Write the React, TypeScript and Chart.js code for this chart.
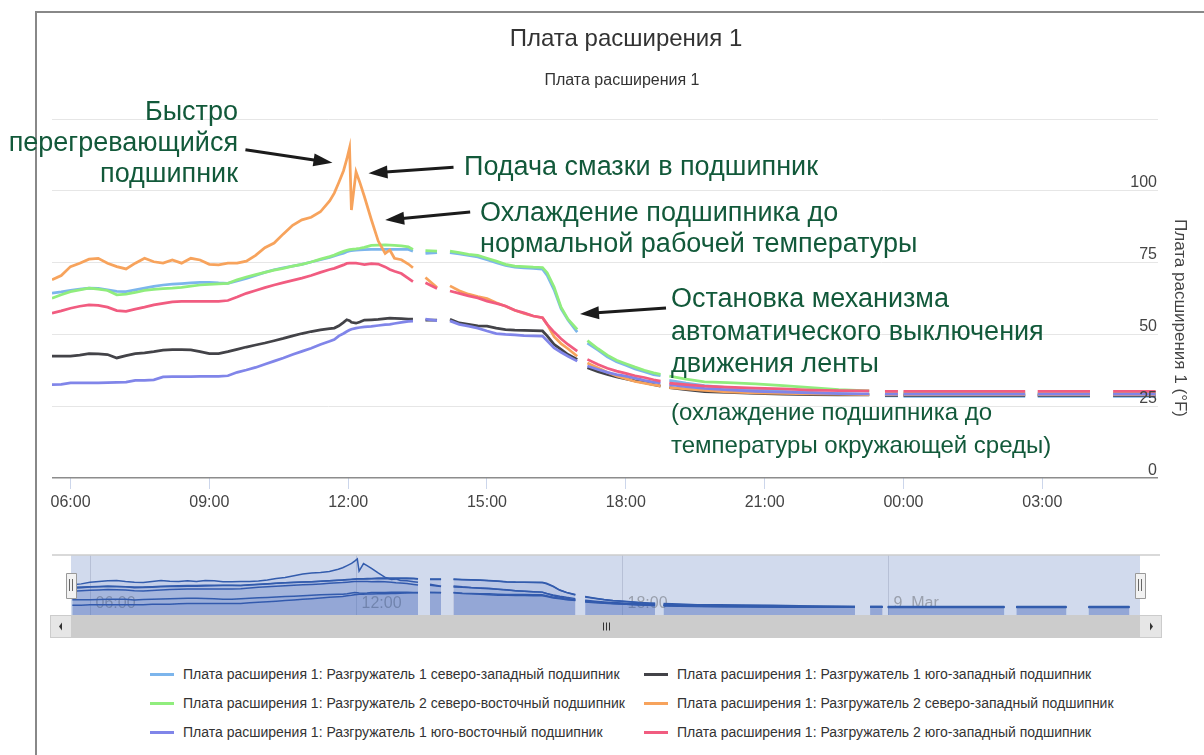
import React, { useEffect, useRef } from "react";
import { Chart, registerables } from "chart.js";

Chart.register(...registerables);

// ---- time grid (hours since 00:00 of day 1; null rows are data gaps) ----
const hours = [
  5.6, 5.8, 6.0, 6.2, 6.4, 6.6, 6.8, 7.0, 7.2, 7.4, 7.6, 7.8, 8.0, 8.2, 8.4, 8.6,
  8.8, 9.0, 9.2, 9.4, 9.6, 9.8, 10.0, 10.2, 10.4, 10.6, 10.8, 11.0, 11.2, 11.4, 11.6,
  11.7, 11.8, 11.9, 11.97, 12.03, 12.07, 12.17, 12.25, 12.35, 12.5, 12.65, 12.8, 12.9, 13.0, 13.15, 13.3, 13.4,
  13.53,
  13.67, 13.92,
  14.05,
  14.2, 14.4, 14.6, 14.8, 15.0, 15.2, 15.4, 15.6, 15.8, 16.0, 16.2, 16.3, 16.45, 16.6, 16.75, 16.95,
  17.06,
  17.17, 17.4, 17.6, 17.8, 18.0, 18.2, 18.4, 18.6, 18.75,
  18.85,
  18.94, 19.3, 19.7, 20.2, 20.8, 21.4, 22.0, 22.6, 23.26,
  23.43,
  23.6, 23.88,
  23.94,
  24.0, 26.63,
  26.77,
  26.9, 28.03,
  28.3,
  28.53, 29.45,
];

// Разгружатель 1 северо-западный (blue)
const unloader1NW = [
  64.4, 64.8, 65.3, 65.8, 66.1, 66.0, 65.5, 65.0, 64.9, 65.5, 66.1, 66.7, 67.2, 67.5, 67.7, 67.9,
  68.1, 68.1, 67.9, 67.8, 68.6, 69.5, 70.5, 71.6, 72.5, 73.2, 73.8, 74.4, 75.2, 76.0, 76.8,
  77.3, 77.8, 78.3, 78.8, 79.1, 79.2, 79.3, 79.4, 79.5, 79.6, 79.6, 79.6, 79.6, 79.6, 79.6, 79.6, 79.0,
  null,
  78.2, 78.5,
  null,
  78.5, 78.0, 77.5, 77.0, 76.0, 75.0, 74.0, 73.4, 73.2, 73.0, 72.7, 70.5, 65.5, 59.0, 55.0, 50.8,
  null,
  47.0, 44.5, 42.2, 40.5, 39.3, 38.0, 37.0, 36.0, 35.6,
  null,
  34.0, 33.0, 32.2, 31.5, 30.8, 30.2, 29.8, 29.4, 29.0,
  null,
  28.6, 28.6,
  null,
  28.4, 28.4,
  null,
  28.4, 28.4,
  null,
  28.4, 28.4,
];

// Разгружатель 1 юго-западный (dark)
const unloader1SW = [
  42.4, 42.4, 42.4, 42.8, 43.3, 43.2, 43.0, 41.8, 42.6, 43.3, 43.6, 44.0, 44.5, 44.7, 44.7, 44.6,
  44.0, 43.3, 43.3, 44.0, 44.8, 45.6, 46.3, 47.0, 47.8, 48.6, 49.5, 50.3, 51.0, 51.6, 52.0,
  52.2, 53.0, 54.2, 55.1, 54.8, 54.2, 53.9, 54.3, 55.0, 55.1, 55.2, 55.5, 55.7, 55.6, 55.5, 55.3, 55.3,
  null,
  55.0, 55.0,
  null,
  55.3, 54.0, 53.5, 53.0, 52.9, 52.2, 51.7, 51.5, 51.4, 51.3, 51.2, 49.5, 46.5, 44.8, 43.0, 41.3,
  null,
  38.4, 37.0, 36.1, 35.2, 34.5, 33.8, 33.2, 32.5, 32.0,
  null,
  31.5, 30.8, 30.1, 29.8, 29.5, 29.2, 29.0, 28.9, 28.9,
  null,
  28.8, 28.8,
  null,
  28.8, 28.8,
  null,
  28.8, 28.8,
  null,
  28.8, 28.8,
];

// Разгружатель 2 северо-восточный (green)
const unloader2NE = [
  62.6, 63.8, 64.9, 65.5, 66.1, 65.8, 65.3, 63.8, 64.0, 64.6, 65.3, 65.7, 65.9, 66.1, 66.4, 66.8,
  67.2, 67.4, 67.6, 67.8, 69.0, 70.0, 70.8, 71.6, 72.4, 73.0, 73.8, 74.4, 75.2, 76.2, 77.1,
  77.6, 78.3, 78.9, 79.3, 79.5, 79.6, 79.8, 80.0, 80.3, 81.0, 81.1, 81.2, 81.1, 81.0, 80.8, 80.5, 79.6,
  null,
  79.2, 79.0,
  null,
  79.0, 78.5, 77.9, 77.5, 76.5, 75.5, 74.4, 73.8, 73.6, 73.4, 73.3, 71.5, 66.5, 59.5, 55.3, 51.7,
  null,
  47.8, 45.0, 42.8, 41.0, 39.8, 38.6, 37.5, 36.6, 36.1,
  null,
  35.5, 34.4, 33.5, 33.2, 32.8, 32.2, 31.5, 30.8, 30.3,
  null,
  30.2, 30.2,
  null,
  29.6, 29.6,
  null,
  29.4, 29.4,
  null,
  29.5, 29.5,
];

// Разгружатель 2 северо-западный (orange)
const unloader2NW = [
  69.0, 70.5, 73.6, 74.8, 76.2, 76.5, 74.8, 73.6, 72.8, 74.8, 76.5, 75.3, 74.8, 75.9, 74.8, 76.5,
  75.9, 74.4, 74.2, 74.8, 74.8, 75.5, 77.5, 80.2, 81.8, 85.0, 88.0, 89.9, 90.8, 92.7, 96.5,
  99.2, 103.0, 107.0, 111.0, 115.0, 93.3, 106.6, 103.0, 98.0, 90.0, 82.5, 78.2, 79.4, 76.5, 76.0, 74.5, 73.2,
  null,
  69.8, 66.3,
  null,
  66.9, 65.2, 64.0, 63.2, 62.5, 61.0, 59.8, 58.4, 57.3, 56.4, 55.8, 53.5, 49.2, 46.8, 45.0, 42.4,
  null,
  40.0, 38.3, 36.8, 35.5, 34.6, 33.6, 33.0, 32.4, 32.1,
  null,
  31.5, 31.0, 30.5, 30.0, 29.6, 29.5, 29.3, 29.2, 29.0,
  null,
  29.0, 29.0,
  null,
  29.0, 29.0,
  null,
  29.0, 29.0,
  null,
  29.0, 29.0,
];

// Разгружатель 1 юго-восточный (violet)
const unloader1SE = [
  32.5, 32.6, 33.1, 33.1, 33.1, 33.1, 33.2, 33.3, 33.4, 34.0, 34.0, 34.2, 35.2, 35.3, 35.3, 35.3,
  35.4, 35.4, 35.4, 35.6, 36.8, 37.6, 38.5, 39.6, 40.7, 41.8, 43.0, 44.1, 45.2, 46.5, 47.6,
  48.2, 49.5, 50.3, 51.0, 51.5, 51.8, 52.2, 52.4, 52.6, 52.8, 53.1, 53.4, 53.5, 53.8, 54.2, 54.5, 54.6,
  null,
  55.3, 54.8,
  null,
  54.7, 53.5, 52.9, 52.2, 51.2, 50.3, 50.0, 49.8, 49.6, 49.5, 49.4, 47.8, 45.3, 43.8, 42.4, 40.7,
  null,
  39.0, 37.8, 36.8, 36.0, 35.5, 34.8, 34.0, 33.4, 33.1,
  null,
  32.5, 31.8, 31.2, 30.7, 30.2, 29.9, 29.6, 29.4, 29.3,
  null,
  29.2, 29.2,
  null,
  29.2, 29.2,
  null,
  29.2, 29.2,
  null,
  29.2, 29.2,
];

// Разгружатель 2 юго-западный (pink)
const unloader2SW = [
  57.4, 58.2, 59.1, 59.8, 60.3, 60.1, 59.5, 58.3, 58.0, 58.8, 59.5, 60.3, 60.8, 61.3, 61.5, 61.5,
  61.5, 61.5, 61.5, 61.8, 63.0, 64.3, 65.3, 66.3, 67.2, 68.0, 68.8, 69.6, 70.5, 71.6, 72.6,
  73.0, 73.6, 74.2, 74.7, 74.8, 74.8, 74.8, 74.6, 74.3, 74.6, 74.5, 73.5, 72.6, 72.0, 71.2, 69.5, 68.4,
  null,
  68.0, 66.0,
  null,
  65.1, 64.3, 63.4, 62.7, 61.6, 60.8, 59.9, 58.4, 57.5, 56.4, 55.8, 53.5, 50.8, 48.5, 46.5, 44.2,
  null,
  41.3, 39.5, 38.2, 37.2, 36.4, 35.6, 35.0, 34.2, 33.7,
  null,
  33.0, 32.5, 32.0, 31.6, 31.3, 31.0, 30.6, 30.4, 30.3,
  null,
  30.2, 30.2,
  null,
  30.2, 30.2,
  null,
  30.2, 30.2,
  null,
  30.2, 30.2,
];

const seriesNames = [
  "Плата расширения 1: Разгружатель 1 северо-западный подшипник",
  "Плата расширения 1: Разгружатель 1 юго-западный подшипник",
  "Плата расширения 1: Разгружатель 2 северо-восточный подшипник",
  "Плата расширения 1: Разгружатель 2 северо-западный подшипник",
  "Плата расширения 1: Разгружатель 1 юго-восточный подшипник",
  "Плата расширения 1: Разгружатель 2 юго-западный подшипник",
];
const seriesValues = [unloader1NW, unloader1SW, unloader2NE, unloader2NW, unloader1SE, unloader2SW];
const seriesColors = ["#7cb5ec", "#434348", "#90ed7d", "#f7a35c", "#8085e9", "#f15c80"];

const xTickHours = [6, 9, 12, 15, 18, 21, 24, 27];
const yTickValues = [0, 25, 50, 75, 100, 125];
const yLabelValues = [0, 25, 50, 75, 100];
const navTickHours = [6, 12, 18, 24];
const navTickLabels = ["06:00", "12:00", "18:00", "9. Mar"];

const chartTitle = "Плата расширения 1";
const chartSubtitle = "Плата расширения 1";
const yAxisTitle = "Плата расширения 1 (°F)";

// Callouts: text blocks + arrows pointing at data features (tip in data units)
const callouts = [
  { lines: ["Быстро", "перегревающийся", "подшипник"], align: "right", x: 238, baselines: [120, 151, 182], size: 27, tip: { h: 11.66, v: 109.8 }, tail: { dx: -87, dy: -13 } },
  { lines: ["Подача смазки в подшипник"], align: "left", x: 464, baselines: [175], size: 27, tip: { h: 12.44, v: 106.1 }, tail: { dx: 85, dy: -6 } },
  { lines: ["Охлаждение подшипника до", "нормальной рабочей температуры"], align: "left", x: 480, baselines: [221, 252], size: 27, tip: { h: 12.8, v: 89.8 }, tail: { dx: 85, dy: -8 } },
  { lines: ["Остановка механизма", "автоматического выключения", "движения ленты"], align: "left", x: 671, baselines: [307, 340, 372], size: 27, tip: { h: 17.01, v: 57.1 }, tail: { dx: 86, dy: -6 } },
  { lines: ["(охлаждение подшипника до", "температуры окружающей среды)"], align: "left", x: 671, baselines: [420, 453], size: 24, tip: null, tail: null },
];

const FONT = '"Liberation Sans", Arial, sans-serif';

function fmtHour(v: number) {
  const h = ((Math.round(v) % 24) + 24) % 24;
  return String(h).padStart(2, "0") + ":00";
}

function drawArrow(ctx: CanvasRenderingContext2D, x1: number, y1: number, x2: number, y2: number) {
  const ang = Math.atan2(y2 - y1, x2 - x1);
  const headLen = 19;
  const headW = 6.5;
  const bx = x2 - headLen * Math.cos(ang);
  const by = y2 - headLen * Math.sin(ang);
  ctx.save();
  ctx.strokeStyle = "#1b1b1b";
  ctx.fillStyle = "#1b1b1b";
  ctx.lineWidth = 3;
  ctx.beginPath();
  ctx.moveTo(x1, y1);
  ctx.lineTo(bx + 2 * Math.cos(ang), by + 2 * Math.sin(ang));
  ctx.stroke();
  ctx.beginPath();
  ctx.moveTo(x2, y2);
  ctx.lineTo(bx + headW * Math.sin(ang), by - headW * Math.cos(ang));
  ctx.lineTo(bx - headW * Math.sin(ang), by + headW * Math.cos(ang));
  ctx.closePath();
  ctx.fill();
  ctx.restore();
}

const mainDecor = {
  id: "mainDecor",
  afterDraw(chart: any) {
    const ctx: CanvasRenderingContext2D = chart.ctx;
    const xs = chart.scales.x;
    const ys = chart.scales.y;
    const area = chart.chartArea;
    ctx.save();
    // titles
    ctx.fillStyle = "#333333";
    ctx.textAlign = "center";
    ctx.textBaseline = "alphabetic";
    ctx.font = `24px ${FONT}`;
    ctx.fillText(chartTitle, 626, 46);
    ctx.font = `16px ${FONT}`;
    ctx.fillText(chartSubtitle, 622, 85);
    // y labels (inside, above gridlines)
    ctx.fillStyle = "#444444";
    ctx.textAlign = "right";
    ctx.font = `16px ${FONT}`;
    yLabelValues.forEach((v) => {
      ctx.fillText(String(v), area.right - 1, ys.getPixelForValue(v) - 3.5);
    });
    // y axis title
    ctx.save();
    ctx.translate(1180, 318);
    ctx.rotate(Math.PI / 2);
    ctx.textAlign = "center";
    ctx.textBaseline = "middle";
    ctx.font = `17px ${FONT}`;
    ctx.fillStyle = "#444444";
    ctx.fillText(yAxisTitle, 0, 0);
    ctx.restore();
    // callouts
    callouts.forEach((c) => {
      ctx.fillStyle = "#12593a";
      ctx.font = `${c.size}px ${FONT}`;
      ctx.textAlign = c.align as CanvasTextAlign;
      ctx.textBaseline = "alphabetic";
      c.lines.forEach((t, i) => ctx.fillText(t, c.x, c.baselines[i]));
      if (c.tip && c.tail) {
        const tx = xs.getPixelForValue(c.tip.h);
        const ty = ys.getPixelForValue(c.tip.v);
        drawArrow(ctx, tx + c.tail.dx, ty + c.tail.dy, tx, ty);
      }
    });
    ctx.restore();
  },
};

const navDecor = {
  id: "navDecor",
  beforeDatasetsDraw(chart: any) {
    const ctx: CanvasRenderingContext2D = chart.ctx;
    const a = chart.chartArea;
    const xs = chart.scales.x;
    ctx.save();
    ctx.fillStyle = "rgba(102,133,194,0.3)";
    ctx.fillRect(a.left, a.top, a.right - a.left, a.bottom - a.top);
    ctx.strokeStyle = "rgba(90,100,130,0.22)";
    ctx.lineWidth = 1;
    navTickHours.forEach((h, i) => {
      const x = Math.round(xs.getPixelForValue(h)) + 0.5;
      ctx.beginPath();
      ctx.moveTo(x, a.top);
      ctx.lineTo(x, a.bottom);
      ctx.stroke();
      ctx.fillStyle = "#9aa0ad";
      ctx.font = `16px ${FONT}`;
      ctx.textAlign = "left";
      ctx.textBaseline = "alphabetic";
      ctx.fillText(navTickLabels[i], x + 5, a.bottom - 7);
    });
    ctx.restore();
  },
  afterDraw(chart: any) {
    const ctx: CanvasRenderingContext2D = chart.ctx;
    const a = chart.chartArea;
    ctx.save();
    // outline
    ctx.strokeStyle = "#cccccc";
    ctx.lineWidth = 1.5;
    ctx.beginPath();
    ctx.moveTo(52, a.top);
    ctx.lineTo(1160, a.top);
    ctx.stroke();
    // handles
    const midY = (a.top + a.bottom) / 2;
    [a.left, a.right].forEach((hx) => {
      const w = 10, h = 25;
      ctx.fillStyle = "#f2f2f2";
      ctx.strokeStyle = "#999999";
      ctx.lineWidth = 1;
      ctx.beginPath();
      ctx.rect(Math.round(hx - w / 2) + 0.5, Math.round(midY - h / 2) + 0.5, w, h);
      ctx.fill();
      ctx.stroke();
      ctx.strokeStyle = "#666666";
      ctx.beginPath();
      ctx.moveTo(Math.round(hx) - 1.5, midY - 6);
      ctx.lineTo(Math.round(hx) - 1.5, midY + 6);
      ctx.moveTo(Math.round(hx) + 1.5, midY - 6);
      ctx.lineTo(Math.round(hx) + 1.5, midY + 6);
      ctx.stroke();
    });
    // scrollbar
    const sTop = a.bottom, sH = 23;
    ctx.fillStyle = "#f2f2f2";
    ctx.fillRect(50, sTop, 1162 - 50, sH);
    ctx.fillStyle = "#cccccc";
    ctx.fillRect(a.left, sTop, a.right - a.left, sH);
    ctx.fillStyle = "#e6e6e6";
    ctx.strokeStyle = "#cccccc";
    ctx.fillRect(50, sTop, a.left - 50, sH);
    ctx.fillRect(a.right, sTop, 1162 - a.right, sH);
    ctx.strokeRect(50.5, sTop + 0.5, 1162 - 50 - 1, sH - 1);
    const cy = sTop + sH / 2;
    ctx.fillStyle = "#333333";
    ctx.beginPath();
    ctx.moveTo(59, cy);
    ctx.lineTo(62, cy - 4);
    ctx.lineTo(62, cy + 4);
    ctx.closePath();
    ctx.fill();
    ctx.beginPath();
    ctx.moveTo(1153, cy);
    ctx.lineTo(1150, cy - 4);
    ctx.lineTo(1150, cy + 4);
    ctx.closePath();
    ctx.fill();
    const gx = Math.round((a.left + a.right) / 2);
    ctx.strokeStyle = "#333333";
    ctx.lineWidth = 1;
    ctx.beginPath();
    [-3, 0, 3].forEach((d) => {
      ctx.moveTo(gx + d + 0.5, cy - 4);
      ctx.lineTo(gx + d + 0.5, cy + 4);
    });
    ctx.stroke();
    ctx.restore();
  },
};

function buildPoints(values: (number | null)[]) {
  return hours.map((h, i) => ({ x: h, y: values[i] }));
}

export default function App() {
  const mainRef = useRef<HTMLCanvasElement>(null);
  const navRef = useRef<HTMLCanvasElement>(null);

  useEffect(() => {
    const main = new Chart(mainRef.current as HTMLCanvasElement, {
      type: "line",
      data: {
        datasets: seriesValues.map((vals, i) => ({
          label: seriesNames[i],
          data: buildPoints(vals),
          borderColor: seriesColors[i],
          backgroundColor: seriesColors[i],
          borderWidth: 2.75,
          pointRadius: 0,
          tension: 0,
          spanGaps: false,
          fill: false,
          order: seriesValues.length - i,
        })),
      },
      options: {
        animation: false,
        responsive: false,
        events: [],
        parsing: true,
        layout: { padding: { left: 52, right: 46, top: 119, bottom: 27 } },
        plugins: {
          legend: { display: false },
          title: { display: false },
          tooltip: { enabled: false },
        },
        scales: {
          x: {
            type: "linear",
            min: 5.6,
            max: 29.5,
            afterBuildTicks: (s: any) => {
              s.ticks = xTickHours.map((v) => ({ value: v }));
            },
            afterFit: (s: any) => {
              s.height = 40;
            },
            grid: { drawOnChartArea: false, drawTicks: true, tickLength: 11, color: "#ccd6eb", lineWidth: 1 },
            border: { display: false },
            ticks: {
              callback: (v: any) => fmtHour(Number(v)),
              font: { family: FONT, size: 16 },
              color: "#444444",
              padding: 4,
              maxRotation: 0,
              autoSkip: false,
            },
          },
          y: {
            type: "linear",
            position: "right",
            min: 0,
            max: 125,
            afterBuildTicks: (s: any) => {
              s.ticks = yTickValues.map((v) => ({ value: v }));
            },
            afterFit: (s: any) => {
              s.width = 0;
            },
            grid: {
              color: (c: any) => (c.tick && c.tick.value === 0 ? "#8c8c8c" : "#e6e6e6"),
              lineWidth: (c: any) => (c.tick && c.tick.value === 0 ? 1.5 : 1),
              drawTicks: false,
            },
            border: { display: false },
            ticks: { display: false },
          },
        },
      },
      plugins: [mainDecor],
    } as any);

    const nav = new Chart(navRef.current as HTMLCanvasElement, {
      type: "line",
      data: {
        datasets: seriesValues.map((vals, i) => ({
          label: seriesNames[i],
          data: buildPoints(vals),
          borderColor: "#335cad",
          backgroundColor: "rgba(51,92,173,0.08)",
          borderWidth: 1.5,
          pointRadius: 0,
          tension: 0,
          spanGaps: false,
          fill: "start",
        })),
      },
      options: {
        animation: false,
        responsive: false,
        events: [],
        layout: { padding: { left: 71, right: 64, top: 10, bottom: 30 } },
        plugins: {
          legend: { display: false },
          title: { display: false },
          tooltip: { enabled: false },
        },
        scales: {
          x: { type: "linear", min: 5.57, max: 29.69, display: false },
          y: { type: "linear", min: 15, max: 122, display: false },
        },
      },
      plugins: [navDecor],
    } as any);

    return () => {
      main.destroy();
      nav.destroy();
    };
  }, []);

  const legendRows = [0, 1, 2];
  return (
    <div
      style={{
        position: "fixed",
        left: 0,
        top: 0,
        width: 1204,
        height: 755,
        background: "#ffffff",
        overflow: "hidden",
        fontFamily: FONT,
      }}
    >
      <div
        style={{
          position: "absolute",
          left: 35,
          top: 11,
          width: 1204 - 35,
          height: 755 - 11,
          borderTop: "2px solid #888888",
          borderLeft: "2px solid #888888",
          boxSizing: "border-box",
        }}
      />
      <canvas ref={mainRef} width={1204} height={545} style={{ position: "absolute", left: 0, top: 0, width: 1204, height: 545 }} />
      <canvas ref={navRef} width={1204} height={100} style={{ position: "absolute", left: 0, top: 545, width: 1204, height: 100 }} />
      {legendRows.map((r) =>
        [0, 1].map((c) => {
          const idx = r * 2 + c;
          const symX = c === 0 ? 150 : 644;
          const textX = c === 0 ? 183 : 677;
          const cy = 674 + r * 29;
          return (
            <React.Fragment key={idx}>
              <div
                style={{
                  position: "absolute",
                  left: symX,
                  top: cy - 1.5,
                  width: 24,
                  height: 3,
                  background: seriesColors[idx],
                }}
              />
              <div
                style={{
                  position: "absolute",
                  left: textX,
                  top: cy - 9,
                  height: 18,
                  lineHeight: "18px",
                  fontSize: 14,
                  color: "#333333",
                  whiteSpace: "nowrap",
                }}
              >
                {seriesNames[idx]}
              </div>
            </React.Fragment>
          );
        })
      )}
    </div>
  );
}
